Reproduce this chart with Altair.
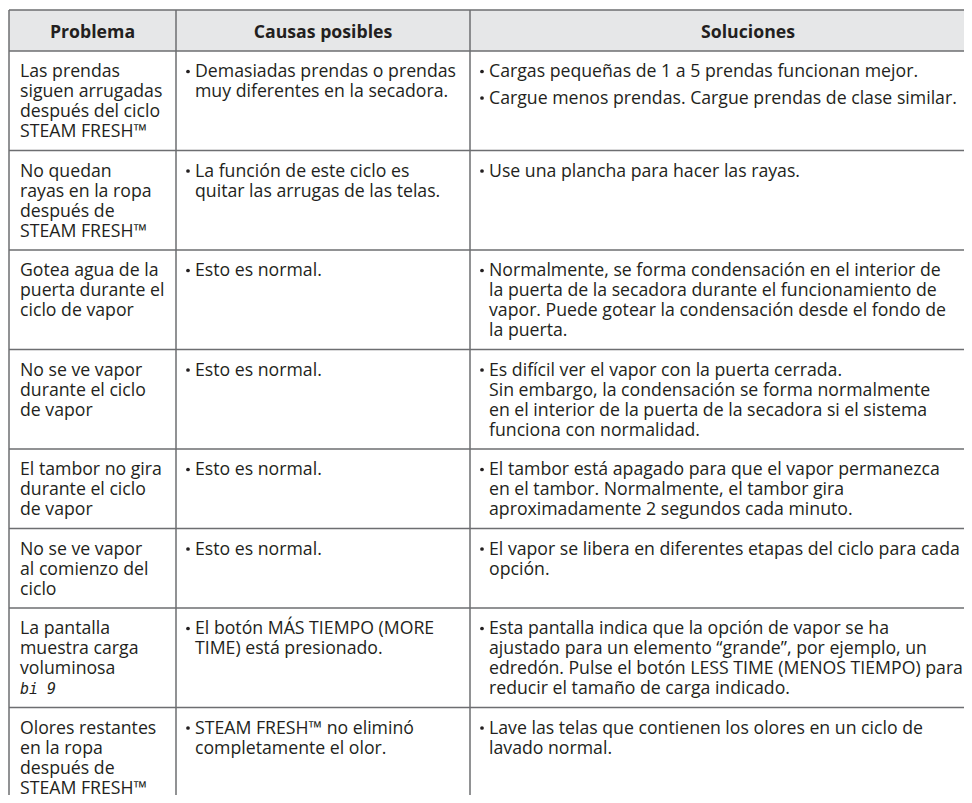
import altair as alt
import pandas as pd

# ------------------------------------------------------------------ DATA
HEADERS = ["Problema", "Causas posibles", "Soluciones"]

PROBLEMS = [
    ["Las prendas", "siguen arrugadas", "después del ciclo", "STEAM FRESH™"],
    ["No quedan", "rayas en la ropa", "después de", "STEAM FRESH™"],
    ["Gotea agua de la", "puerta durante el", "ciclo de vapor"],
    ["No se ve vapor", "durante el ciclo", "de vapor"],
    ["El tambor no gira", "durante el ciclo", "de vapor"],
    ["No se ve vapor", "al comienzo del", "ciclo"],
    ["La pantalla", "muestra carga", "voluminosa", "bi 9"],
    ["Olores restantes", "en la ropa", "después de", "STEAM FRESH™"],
]
DISPLAY_CODE = "bi 9"

CAUSES = [
    [["Demasiadas prendas o prendas", "muy diferentes en la secadora."]],
    [["La función de este ciclo es", "quitar las arrugas de las telas."]],
    [["Esto es normal."]],
    [["Esto es normal."]],
    [["Esto es normal."]],
    [["Esto es normal."]],
    [["El botón MÁS TIEMPO (MORE", "TIME) está presionado."]],
    [["STEAM FRESH™ no eliminó", "completamente el olor."]],
]

SOLUTIONS = [
    [["Cargas pequeñas de 1 a 5 prendas funcionan mejor."],
     ["Cargue menos prendas. Cargue prendas de clase similar."]],
    [["Use una plancha para hacer las rayas."]],
    [["Normalmente, se forma condensación en el interior de",
      "la puerta de la secadora durante el funcionamiento de",
      "vapor. Puede gotear la condensación desde el fondo de",
      "la puerta."]],
    [["Es difícil ver el vapor con la puerta cerrada.",
      "Sin embargo, la condensación se forma normalmente",
      "en el interior de la puerta de la secadora si el sistema",
      "funciona con normalidad."]],
    [["El tambor está apagado para que el vapor permanezca",
      "en el tambor. Normalmente, el tambor gira",
      "aproximadamente 2 segundos cada minuto."]],
    [["El vapor se libera en diferentes etapas del ciclo para cada",
      "opción."]],
    [["Esta pantalla indica que la opción de vapor se ha",
      "ajustado para un elemento “grande”, por ejemplo, un",
      "edredón. Pulse el botón LESS TIME (MENOS TIEMPO) para",
      "reducir el tamaño de carga indicado."]],
    [["Lave las telas que contienen los olores en un ciclo de",
      "lavado normal."]],
]

# ------------------------------------------------------------------ LAYOUT
COL_EDGES = [9, 176, 470, 1026]
TABLE_TOP = 10
HEADER_H = 41
HEADER_BASE = 27.5
LINE = 20
PARA_GAP = 6.5
ROW_PAD = 19.5
FIRST_BASE = 26
TEXT_DX = 11
BULLET_DX = 12
BULLET_TEXT_DX = 19
BULLET_RISE = 5.5
TABLE_BOTTOM = 830
FONT = "Open Sans"
FS = 17.7
INK = "#231f20"
LINE_COLOR = "#6d6e71"
PAGE_W, PAGE_H = 956, 787

# ------------------------------------------------------------------ BUILD TABLES
texts, codes, bullets, hrules, vrules = [], [], [], [], []
headers = []
for c, h in enumerate(HEADERS):
    headers.append({"x": (COL_EDGES[c] + COL_EDGES[c + 1]) / 2,
                    "y": TABLE_TOP + HEADER_BASE, "t": h})

hrules.append({"y": TABLE_TOP})
top = TABLE_TOP + HEADER_H
hrules.append({"y": top})


def cell_height(paras):
    return sum(len(p) for p in paras) * LINE + (len(paras) - 1) * PARA_GAP


for r in range(len(PROBLEMS)):
    # column 1: one multi-line text per cell, display code drawn apart
    plain = [l for l in PROBLEMS[r] if l != DISPLAY_CODE]
    texts.append({"x": COL_EDGES[0] + TEXT_DX, "y": top + FIRST_BASE,
                  "t": "\n".join(plain)})
    for i, line in enumerate(PROBLEMS[r]):
        if line == DISPLAY_CODE:
            codes.append({"x": COL_EDGES[0] + TEXT_DX,
                          "y": top + FIRST_BASE + i * LINE, "t": line})
    # columns 2 and 3 (bulleted paragraphs)
    for c, cells in ((1, CAUSES), (2, SOLUTIONS)):
        off = 0.0
        for para in cells[r]:
            bullets.append({"x": COL_EDGES[c] + BULLET_DX,
                            "y": top + FIRST_BASE + off - BULLET_RISE})
            texts.append({"x": COL_EDGES[c] + BULLET_TEXT_DX,
                          "y": top + FIRST_BASE + off, "t": "\n".join(para)})
            off += len(para) * LINE + PARA_GAP
    h = max(len(PROBLEMS[r]) * LINE, cell_height(CAUSES[r]), cell_height(SOLUTIONS[r]))
    top += h + ROW_PAD
    hrules.append({"y": top})

for e in COL_EDGES[:3]:
    vrules.append({"x": e, "y": TABLE_TOP, "y2": TABLE_BOTTOM})
for hr in hrules:
    hr["x"] = COL_EDGES[0]
    hr["x2"] = COL_EDGES[-1]

# ------------------------------------------------------------------ CHART
xs = alt.Scale(domain=[8, 8 + PAGE_W])
ys = alt.Scale(domain=[8, 8 + PAGE_H], reverse=True)


def X(f):
    return alt.X(f, type="quantitative", scale=xs, axis=None)


def Y(f):
    return alt.Y(f, type="quantitative", scale=ys, axis=None)


header_bg = alt.Chart(pd.DataFrame([{"x": COL_EDGES[0], "x2": COL_EDGES[-1],
                                     "y": TABLE_TOP, "y2": TABLE_TOP + HEADER_H}])
                      ).mark_rect(fill="#e6e7e8").encode(
    x=X("x"), x2="x2", y=Y("y"), y2="y2")

h_lines = alt.Chart(pd.DataFrame(hrules)).mark_rule(
    color=LINE_COLOR, strokeWidth=1.5).encode(x=X("x"), x2="x2", y=Y("y"))

v_lines = alt.Chart(pd.DataFrame(vrules)).mark_rule(
    color=LINE_COLOR, strokeWidth=1.5).encode(x=X("x"), y=Y("y"), y2="y2")

header_text = alt.Chart(pd.DataFrame(headers)).mark_text(
    align="center", baseline="alphabetic", font=FONT, fontSize=FS,
    fontWeight="bold", color=INK).encode(x=X("x"), y=Y("y"), text="t:N")

body_text = alt.Chart(pd.DataFrame(texts)).mark_text(
    align="left", baseline="alphabetic", font=FONT, fontSize=FS,
    lineBreak="\n", lineHeight=LINE, color=INK).encode(
    x=X("x"), y=Y("y"), text="t:N")

code_text = alt.Chart(pd.DataFrame(codes)).mark_text(
    align="left", baseline="alphabetic", font="DejaVu Sans Mono", fontSize=15,
    fontStyle="italic", fontWeight=300, color=INK).encode(
    x=X("x"), y=Y("y"), text="t:N")

bullet_marks = alt.Chart(pd.DataFrame(bullets)).mark_circle(
    size=14, color=INK, opacity=1).encode(x=X("x"), y=Y("y"))

chart = alt.layer(header_bg, h_lines, v_lines, header_text, body_text,
                  code_text, bullet_marks).properties(
    width=PAGE_W, height=PAGE_H, padding=0, autosize="none"
).configure_view(stroke=None)

chart.save("out.html", embed_options={"renderer": "svg", "actions": False})
